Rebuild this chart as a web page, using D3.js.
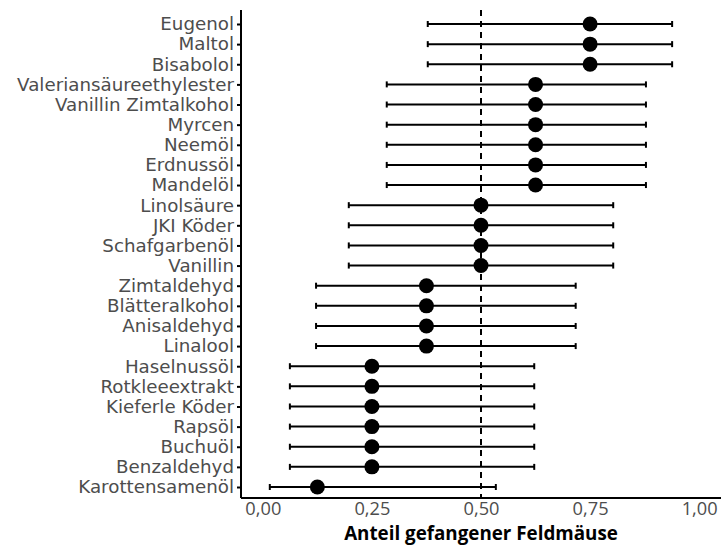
<!DOCTYPE html>
<html>
<head>
<meta charset="utf-8">
<script src="https://cdn.jsdelivr.net/npm/d3@7"></script>
<style>
  body { margin: 0; background: #fff; }
  text { font-family: "DejaVu Sans", sans-serif; }
</style>
</head>
<body>
<div id="chart"></div>
<script>
// data, top to bottom
var substances = ["Eugenol", "Maltol", "Bisabolol", "Valeriansäureethylester",
  "Vanillin Zimtalkohol", "Myrcen", "Neemöl", "Erdnussöl", "Mandelöl",
  "Linolsäure", "JKI Köder", "Schafgarbenöl", "Vanillin",
  "Zimtaldehyd", "Blätteralkohol", "Anisaldehyd", "Linalool",
  "Haselnussöl", "Rotkleeextrakt", "Kieferle Köder", "Rapsöl", "Buchuöl",
  "Benzaldehyd", "Karottensamenöl"];
var proportion = [0.75, 0.75, 0.75, 0.625, 0.625, 0.625, 0.625, 0.625, 0.625,
  0.5, 0.5, 0.5, 0.5, 0.375, 0.375, 0.375, 0.375,
  0.25, 0.25, 0.25, 0.25, 0.25, 0.25, 0.125];
var lower = [0.378, 0.378, 0.378, 0.284, 0.284, 0.284, 0.284, 0.284, 0.284,
  0.197, 0.197, 0.197, 0.197, 0.122, 0.122, 0.122, 0.122,
  0.062, 0.062, 0.062, 0.062, 0.062, 0.062, 0.016];
var upper = [0.938, 0.938, 0.938, 0.878, 0.878, 0.878, 0.878, 0.878, 0.878,
  0.803, 0.803, 0.803, 0.803, 0.717, 0.717, 0.717, 0.717,
  0.622, 0.622, 0.622, 0.622, 0.622, 0.622, 0.534];
var xTicks = [0, 0.25, 0.5, 0.75, 1];
var refLine = 0.5;
var xTitle = "Anteil gefangener Feldmäuse";

var svgWidth = 723, svgHeight = 550;
var margin = { top: 10, right: 2, bottom: 52, left: 241 };
var width = svgWidth - margin.left - margin.right;
var height = svgHeight - margin.top - margin.bottom;
var labelFont = "'DejaVu Sans', sans-serif";
var axisFont = "'Open Sans', 'DejaVu Sans', sans-serif";

var data = substances.map(function (s, i) {
  return { name: s, p: proportion[i], lo: lower[i], hi: upper[i] };
});

var svg = d3.select("#chart").append("svg")
  .attr("width", svgWidth)
  .attr("height", svgHeight);

var chart = svg.append("g")
  .attr("transform", `translate(${margin.left}, ${margin.top})`);

// shrink/grow font so the widest text hits the width seen in the picture
function fitFont(sel, target) {
  var w = 0;
  sel.each(function () { w = Math.max(w, this.getComputedTextLength()); });
  var fs = parseFloat(sel.attr("font-size"));
  sel.attr("font-size", (fs * target / w).toFixed(2));
}

// scales
var x = d3.scaleLinear().domain([-0.05, 1.05]).range([0, width]);
var y = d3.scalePoint().domain(substances).range([14, height - 11]);

// axes
var fmt = function (d) { return d3.format(".2f")(d).replace(".", ","); };

var xaxis = chart.append("g")
  .attr("transform", `translate(0, ${height})`)
  .call(d3.axisBottom(x).tickValues(xTicks).tickFormat(fmt).tickSize(0).tickPadding(4));
xaxis.select(".domain").attr("stroke", "#000").attr("stroke-width", 2)
  .attr("d", `M0,0H${width}`);
xaxis.selectAll("text").attr("font-size", 16).attr("fill", "#4d4d4d")
  .style("font-family", axisFont);
fitFont(xaxis.selectAll("text"), 36);

var yaxis = chart.append("g")
  .call(d3.axisLeft(y).tickSize(4).tickPadding(3));
yaxis.select(".domain").attr("stroke", "#000").attr("stroke-width", 2)
  .attr("d", `M0,0V${height}`);
yaxis.selectAll(".tick line").attr("stroke", "#000").attr("stroke-width", 2);
yaxis.selectAll("text").attr("font-size", 16).attr("fill", "#4d4d4d")
  .style("font-family", labelFont);
fitFont(yaxis.selectAll("text"), 217);

// reference line
chart.append("line")
  .attr("x1", x(refLine)).attr("x2", x(refLine))
  .attr("y1", 0).attr("y2", height)
  .attr("stroke", "#000")
  .attr("stroke-width", 2)
  .attr("stroke-dasharray", "6,5");

// error bars
var bars = chart.selectAll(".bar").data(data).enter().append("g").attr("class", "bar");
bars.append("line")
  .attr("x1", d => x(d.lo)).attr("x2", d => x(d.hi))
  .attr("y1", d => y(d.name)).attr("y2", d => y(d.name))
  .attr("stroke", "#000").attr("stroke-width", 2);
bars.append("line")
  .attr("x1", d => x(d.lo)).attr("x2", d => x(d.lo))
  .attr("y1", d => y(d.name) - 3).attr("y2", d => y(d.name) + 3)
  .attr("stroke", "#000").attr("stroke-width", 2);
bars.append("line")
  .attr("x1", d => x(d.hi)).attr("x2", d => x(d.hi))
  .attr("y1", d => y(d.name) - 3).attr("y2", d => y(d.name) + 3)
  .attr("stroke", "#000").attr("stroke-width", 2);

// points
chart.selectAll("circle").data(data).enter().append("circle")
  .attr("cx", d => x(d.p))
  .attr("cy", d => y(d.name))
  .attr("r", 7.5)
  .attr("fill", "#000");

// axis title
var title = chart.append("text")
  .attr("x", x(0.5))
  .attr("y", height + 42)
  .attr("text-anchor", "middle")
  .attr("font-size", 16)
  .attr("font-weight", "bold")
  .attr("fill", "#000")
  .style("font-family", axisFont)
  .text(xTitle);
fitFont(title, 274);
</script>
</body>
</html>
